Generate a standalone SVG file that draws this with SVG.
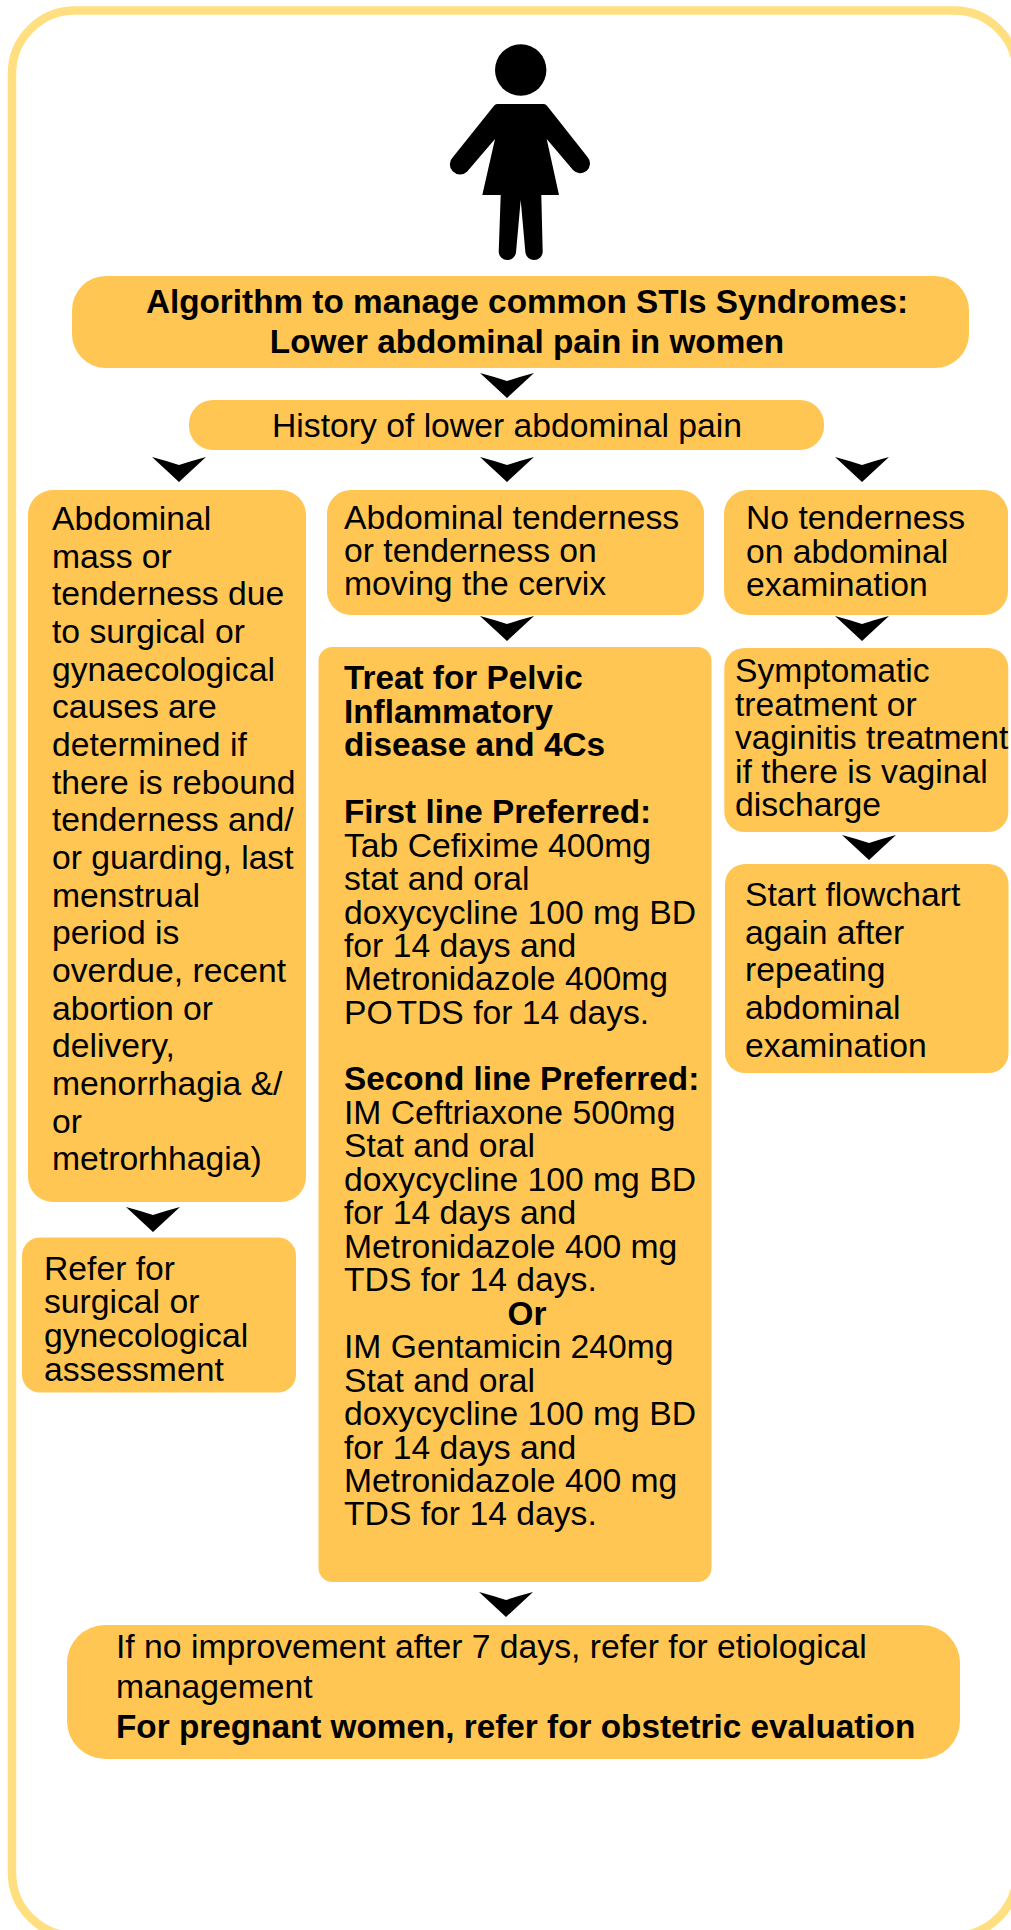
<svg xmlns="http://www.w3.org/2000/svg" width="1011" height="1930" viewBox="0 0 1011 1930">
<defs>
<style>
text{font-family:"Liberation Sans",Arial,sans-serif;font-size:33.7px;fill:#000}
.b{font-weight:700;font-size:33.3px}
.box{fill:#FFC654}
</style>
<path id="ah" d="M-27 0Q-12 4 0 8Q12 4 27 0L0 25Z" fill="#000"/>
</defs>
<rect width="1011" height="1930" fill="#fff"/>
<rect id="frame" x="12" y="10.5" width="1005" height="1925.500" rx="63" fill="none" stroke="#FFDF80" stroke-width="8.500"/>
<g id="figure" fill="#000">
<circle cx="520.700" cy="70" r="25.700"/>
<path d="M497 104H544Q546 104 548 107L587.500 157A9.500 9.500 0 0 1 573 170L546.700 139L559 195H541.300L542.700 252A8.700 8.700 0 0 1 525.400 252.500L520.700 200L516 252.500A8.700 8.700 0 0 1 498.700 252L500.700 195H482.300L495 139L467 171.700A9.500 9.500 0 0 1 453 157L493 107Q495 104 497 104Z"/>
</g>
<g id="connectors">
<use href="#ah" x="507" y="373"/>
<use href="#ah" x="179" y="457"/>
<use href="#ah" x="507" y="457"/>
<use href="#ah" x="862" y="457"/>
<use href="#ah" x="507" y="616"/>
<use href="#ah" x="862" y="616"/>
<use href="#ah" x="869" y="835"/>
<use href="#ah" x="153" y="1207"/>
<use href="#ah" x="506" y="1592"/>
</g>
<g id="title"><rect class="box" x="72" y="276" width="897" height="92" rx="34"/>
<text class="b" x="527" y="313" text-anchor="middle">Algorithm to manage common STIs Syndromes:</text>
<text class="b" x="527" y="353" text-anchor="middle">Lower abdominal pain in women</text></g>
<g id="history"><rect class="box" x="189" y="400" width="635" height="50" rx="24"/>
<text x="507" y="437" text-anchor="middle">History of lower abdominal pain</text></g>
<g id="left"><rect class="box" x="28" y="490" width="278" height="712" rx="25"/>
<text x="52" y="530">Abdominal</text><text x="52" y="568">mass or</text><text x="52" y="605">tenderness due</text><text x="52" y="643">to surgical or</text><text x="52" y="681">gynaecological</text><text x="52" y="718">causes are</text><text x="52" y="756">determined if</text><text x="52" y="794">there is rebound</text><text x="52" y="831">tenderness and/</text><text x="52" y="869">or guarding, last</text><text x="52" y="907">menstrual</text><text x="52" y="944">period is</text><text x="52" y="982">overdue, recent</text><text x="52" y="1020">abortion or</text><text x="52" y="1057">delivery,</text><text x="52" y="1095">menorrhagia &amp;/</text><text x="52" y="1133">or</text><text x="52" y="1170">metrorhhagia)</text></g>
<g id="refer"><rect class="box" x="22" y="1237.500" width="274" height="155" rx="18"/>
<text x="44" y="1280">Refer for</text><text x="44" y="1313">surgical or</text><text x="44" y="1347">gynecological</text><text x="44" y="1381">assessment</text></g>
<g id="tender"><rect class="box" x="327" y="490" width="377" height="125" rx="24"/>
<text x="344" y="529">Abdominal tenderness</text><text x="344" y="562">or tenderness on</text><text x="344" y="595">moving the cervix</text></g>
<g id="notender"><rect class="box" x="724" y="490" width="284" height="125" rx="24"/>
<text x="746" y="529">No tenderness</text><text x="746" y="563">on abdominal</text><text x="746" y="596">examination</text></g>
<g id="treat"><rect class="box" x="318.500" y="647" width="393" height="935" rx="14"/>
<text class="b" x="344" y="689">Treat for Pelvic</text><text class="b" x="344" y="723">Inflammatory</text><text class="b" x="344" y="756">disease and 4Cs</text>
<text class="b" x="344" y="823">First line Preferred:</text>
<text x="344" y="857">Tab Cefixime 400mg</text><text x="344" y="890">stat and oral</text><text x="344" y="924">doxycycline 100 mg BD</text><text x="344" y="957">for 14 days and</text><text x="344" y="990">Metronidazole 400mg</text><text x="344" y="1024">PO<tspan dx="-5"> TDS for 14 days.</tspan></text>
<text class="b" x="344" y="1090">Second line Preferred:</text>
<text x="344" y="1124">IM Ceftriaxone 500mg</text><text x="344" y="1157">Stat and oral</text><text x="344" y="1191">doxycycline 100 mg BD</text><text x="344" y="1224">for 14 days and</text><text x="344" y="1258">Metronidazole 400 mg</text><text x="344" y="1291">TDS for 14 days.</text>
<text class="b" x="527" y="1325" text-anchor="middle">Or</text>
<text x="344" y="1358">IM Gentamicin 240mg</text><text x="344" y="1392">Stat and oral</text><text x="344" y="1425">doxycycline 100 mg BD</text><text x="344" y="1459">for 14 days and</text><text x="344" y="1492">Metronidazole 400 mg</text><text x="344" y="1525">TDS for 14 days.</text></g>
<g id="sympt"><rect class="box" x="724.300" y="648" width="284" height="184" rx="20"/>
<text x="735" y="682">Symptomatic</text><text x="735" y="716">treatment or</text><text x="735" y="749">vaginitis treatment</text><text x="735" y="783">if there is vaginal</text><text x="735" y="816">discharge</text></g>
<g id="start"><rect class="box" x="725" y="864" width="283.500" height="209" rx="20"/>
<text x="745" y="906">Start flowchart</text><text x="745" y="944">again after</text><text x="745" y="981">repeating</text><text x="745" y="1019">abdominal</text><text x="745" y="1057">examination</text></g>
<g id="bottom"><rect class="box" x="67" y="1625" width="893" height="134" rx="38"/>
<text x="116" y="1658">If no improvement after 7 days, refer for etiological</text><text x="116" y="1698">management</text><text class="b" x="116" y="1738">For pregnant women, refer for obstetric evaluation</text></g>
</svg>
